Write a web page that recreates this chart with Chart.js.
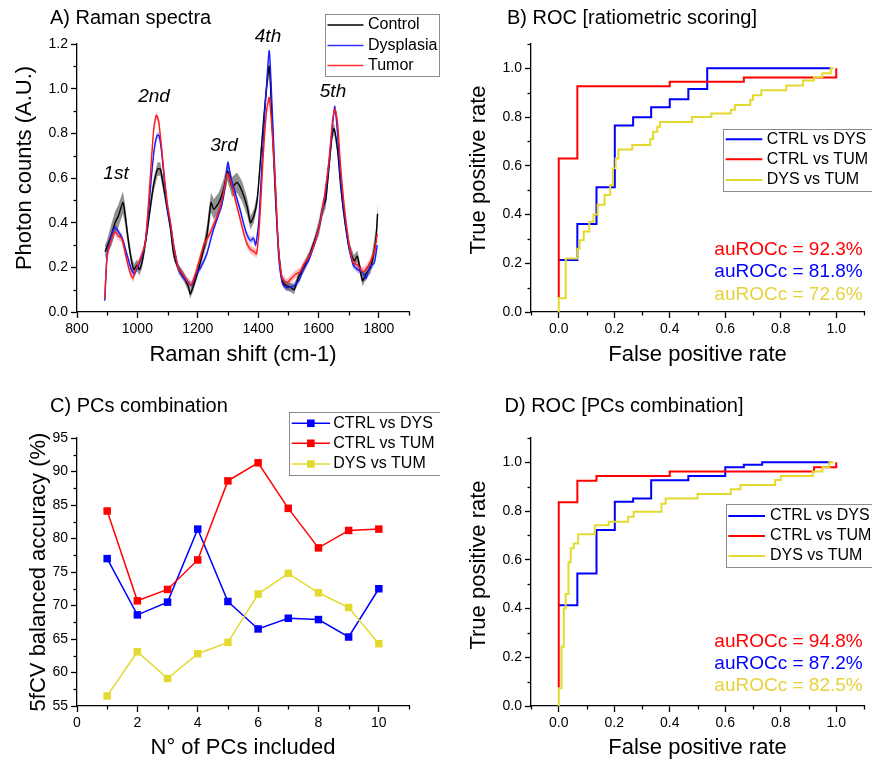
<!DOCTYPE html>
<html>
<head>
<meta charset="utf-8">
<script src="https://cdn.jsdelivr.net/npm/chart.js@4.4.0/dist/chart.umd.min.js"></script>
<style>
  body { margin: 0; background: #fff; width: 872px; height: 762px; position: relative; overflow: hidden; }
  canvas { position: absolute; }
</style>
</head>
<body>
<canvas id="chartA" width="440" height="380" style="left:0;top:0"></canvas>
<canvas id="chartB" width="432" height="380" style="left:440px;top:0"></canvas>
<canvas id="chartC" width="440" height="382" style="left:0;top:380px"></canvas>
<canvas id="chartD" width="432" height="382" style="left:440px;top:380px"></canvas>
<script>
// ---- A) Raman spectra (mean +- band) ----
const ramanXTicks = [800, 1000, 1200, 1400, 1600, 1800];
const ramanYTicks = [0, 0.2, 0.4, 0.6, 0.8, 1.0, 1.2];
const ramanPeaks = ['1st', '2nd', '3rd', '4th', '5th'];

const ctrlX = [893, 899, 915, 926, 937, 952, 959, 970, 982, 989, 998, 1007, 1015, 1023, 1031, 1043, 1054, 1067, 1076, 1087,
  1098, 1109, 1120, 1137, 1153, 1170, 1175, 1184, 1198, 1214, 1231, 1244, 1253, 1270, 1286, 1299, 1314, 1330, 1347, 1364,
  1375, 1386, 1397, 1413, 1424, 1437, 1447, 1458, 1469, 1480, 1491, 1508, 1519, 1535, 1552, 1569, 1585, 1602, 1613, 1624,
  1635, 1646, 1652, 1663, 1674, 1685, 1701, 1718, 1729, 1746, 1757, 1773, 1790, 1796];
const ctrlY = [0.27, 0.29, 0.35, 0.40, 0.43, 0.49, 0.44, 0.32, 0.22, 0.19, 0.21, 0.19, 0.22, 0.28, 0.35, 0.47, 0.57, 0.64, 0.64, 0.56,
  0.47, 0.38, 0.26, 0.19, 0.16, 0.11, 0.08, 0.11, 0.17, 0.25, 0.35, 0.49, 0.46, 0.49, 0.55, 0.63, 0.56, 0.58, 0.54, 0.47,
  0.40, 0.43, 0.50, 0.77, 0.95, 1.10, 0.83, 0.50, 0.26, 0.14, 0.12, 0.11, 0.10, 0.16, 0.20, 0.25, 0.31, 0.38, 0.46, 0.50,
  0.65, 0.80, 0.82, 0.73, 0.56, 0.43, 0.29, 0.23, 0.25, 0.14, 0.17, 0.20, 0.32, 0.44];
const ctrlErr = [0.03, 0.03, 0.05, 0.05, 0.05, 0.05, 0.045, 0.03, 0.025, 0.025, 0.025, 0.025, 0.025, 0.03, 0.03, 0.03, 0.03, 0.03, 0.03, 0.03,
  0.03, 0.02, 0.02, 0.02, 0.02, 0.02, 0.02, 0.02, 0.02, 0.02, 0.045, 0.045, 0.045, 0.045, 0.045, 0.045, 0.045, 0.045, 0.045, 0.04,
  0.03, 0.03, 0.03, 0.03, 0.03, 0.03, 0.03, 0.03, 0.02, 0.02, 0.02, 0.02, 0.02, 0.02, 0.02, 0.02, 0.02, 0.035, 0.035, 0.035,
  0.025, 0.025, 0.025, 0.025, 0.025, 0.025, 0.025, 0.025, 0.025, 0.025, 0.025, 0.025, 0.05, 0.05];

const dysX = [892, 900, 915, 926, 937, 950, 965, 980, 990, 1000, 1015, 1025, 1035, 1045, 1055, 1065, 1072, 1080, 1090, 1100,
  1110, 1120, 1135, 1150, 1170, 1180, 1195, 1210, 1230, 1250, 1265, 1280, 1290, 1300, 1310, 1325, 1340, 1355, 1365, 1375,
  1385, 1392, 1402, 1415, 1425, 1437, 1447, 1458, 1468, 1480, 1492, 1505, 1520, 1535, 1550, 1570, 1590, 1605, 1620, 1635,
  1647, 1654, 1662, 1672, 1685, 1700, 1715, 1730, 1745, 1757, 1770, 1785, 1795];
const dysY = [0.05, 0.26, 0.35, 0.38, 0.36, 0.33, 0.26, 0.19, 0.17, 0.20, 0.25, 0.30, 0.42, 0.58, 0.72, 0.79, 0.79, 0.72, 0.58, 0.46,
  0.39, 0.30, 0.20, 0.16, 0.13, 0.12, 0.17, 0.20, 0.26, 0.36, 0.42, 0.48, 0.56, 0.67, 0.60, 0.53, 0.46, 0.38, 0.34, 0.32,
  0.33, 0.30, 0.40, 0.72, 0.95, 1.17, 0.90, 0.55, 0.25, 0.13, 0.11, 0.11, 0.12, 0.14, 0.19, 0.24, 0.32, 0.40, 0.50, 0.67,
  0.84, 0.92, 0.82, 0.62, 0.45, 0.30, 0.21, 0.19, 0.18, 0.15, 0.20, 0.22, 0.30];
const dysErr = 0.015;

const tumX = [892, 900, 915, 926, 937, 948, 962, 975, 985, 995, 1010, 1025, 1035, 1045, 1055, 1063, 1070, 1080, 1090, 1100,
  1110, 1120, 1135, 1150, 1165, 1178, 1190, 1205, 1220, 1240, 1255, 1270, 1285, 1298, 1310, 1325, 1340, 1355, 1365, 1375,
  1387, 1395, 1405, 1417, 1428, 1437, 1447, 1458, 1468, 1480, 1495, 1510, 1525, 1540, 1550, 1570, 1590, 1605, 1620, 1635,
  1647, 1655, 1663, 1673, 1685, 1700, 1715, 1730, 1745, 1757, 1770, 1785, 1795];
const tumY = [0.06, 0.25, 0.33, 0.36, 0.34, 0.33, 0.25, 0.18, 0.15, 0.19, 0.24, 0.30, 0.45, 0.65, 0.83, 0.88, 0.86, 0.74, 0.60, 0.48,
  0.40, 0.30, 0.20, 0.17, 0.14, 0.12, 0.16, 0.23, 0.30, 0.35, 0.40, 0.45, 0.53, 0.62, 0.58, 0.50, 0.42, 0.34, 0.30, 0.28,
  0.27, 0.26, 0.40, 0.70, 0.90, 0.96, 0.80, 0.55, 0.28, 0.15, 0.13, 0.15, 0.17, 0.18, 0.21, 0.25, 0.32, 0.40, 0.52, 0.68,
  0.86, 0.91, 0.85, 0.66, 0.48, 0.32, 0.22, 0.21, 0.18, 0.19, 0.22, 0.27, 0.35];
const tumErr = 0.018;

// ---- ROC axes ----
const rocTicks = [0, 0.2, 0.4, 0.6, 0.8, 1.0];

// B) ROC ratiometric scoring (fpr = end of each horizontal run, tpr = level)
const ratioCtrlDysFpr = [0, 0.067, 0.136, 0.202, 0.268, 0.333, 0.40, 0.467, 0.535, 0.98];
const ratioCtrlDysTpr = [0.213, 0.213, 0.361, 0.512, 0.765, 0.799, 0.84, 0.873, 0.915, 1.0];
const ratioCtrlTumFpr = [0, 0.067, 0.40, 0.667, 1.0, 1.0];
const ratioCtrlTumTpr = [0.06, 0.63, 0.927, 0.945, 0.963, 1.0];
const ratioDysTumFpr = [0, 0.025, 0.067, 0.075, 0.09, 0.11, 0.125, 0.14, 0.165, 0.185, 0.195, 0.205, 0.215, 0.265, 0.33, 0.34,
  0.355, 0.365, 0.48, 0.55, 0.62, 0.635, 0.69, 0.70, 0.73, 0.82, 0.88, 0.92, 0.95, 0.98, 0.99];
const ratioDysTumTpr = [0, 0.056, 0.22, 0.26, 0.295, 0.33, 0.37, 0.40, 0.44, 0.48, 0.52, 0.59, 0.63, 0.667, 0.685, 0.71,
  0.74, 0.76, 0.78, 0.80, 0.815, 0.83, 0.85, 0.87, 0.89, 0.91, 0.93, 0.95, 0.965, 0.98, 1.0];
const ratioAuc = [92.3, 81.8, 72.6];

// D) ROC PCs combination
const pcaCtrlDysFpr = [0, 0.067, 0.136, 0.202, 0.268, 0.333, 0.467, 0.60, 0.667, 0.733, 0.98];
const pcaCtrlDysTpr = [0.414, 0.414, 0.544, 0.722, 0.838, 0.852, 0.927, 0.944, 0.98, 0.99, 1.0];
const pcaCtrlTumFpr = [0, 0.067, 0.136, 0.40, 0.92, 1.0, 1.0];
const pcaCtrlTumTpr = [0.073, 0.836, 0.925, 0.944, 0.963, 0.98, 1.0];
const pcaDysTumFpr = [0, 0.01, 0.018, 0.025, 0.035, 0.043, 0.054, 0.07, 0.13, 0.18, 0.25, 0.27, 0.37, 0.385, 0.50, 0.62,
  0.655, 0.78, 0.80, 0.915, 0.95, 0.975, 0.99];
const pcaDysTumTpr = [0, 0.073, 0.243, 0.40, 0.46, 0.59, 0.647, 0.667, 0.705, 0.742, 0.756, 0.777, 0.797, 0.83, 0.852, 0.87,
  0.89, 0.907, 0.928, 0.944, 0.962, 0.98, 1.0];
const pcaAuc = [94.8, 87.2, 82.5];

// C) PCs combination, 5fCV balanced accuracy (%)
const pcXTicks = [0, 2, 4, 6, 8, 10];
const pcYTicks = [55, 60, 65, 70, 75, 80, 85, 90, 95];
const pcCount = [1, 2, 3, 4, 5, 6, 7, 8, 9, 10];
const pcCtrlDys = [77.0, 68.6, 70.5, 81.4, 70.6, 66.5, 68.1, 67.9, 65.3, 72.5];
const pcCtrlTum = [84.1, 70.7, 72.4, 76.8, 88.6, 91.3, 84.5, 78.6, 81.2, 81.4];
const pcDysTum = [56.5, 63.1, 59.1, 62.8, 64.5, 71.7, 74.8, 71.9, 69.7, 64.3];

const comparisons = ['CTRL vs DYS', 'CTRL vs TUM', 'DYS vs TUM'];
const groups = ['Control', 'Dysplasia', 'Tumor'];

const BLUE = '#0000ff', RED = '#ff0000', YELLOW = '#e3da30', YTEXT = '#e6d23c';
const FONT = '"Liberation Sans", Arial, Helvetica, sans-serif';

Chart.defaults.font.family = FONT;
Chart.defaults.color = '#000';
Chart.defaults.animation = false;
Chart.defaults.responsive = false;
Chart.defaults.plugins.legend.display = false;
Chart.defaults.plugins.tooltip.enabled = false;

const pts = (xs, ys) => xs.map((x, i) => ({x: x, y: ys[i]}));

// x axis keeps the library title; y axis title is drawn in decor so it can sit a bit higher like the original
function axis(c) {
  const horiz = c.pos === 'bottom';
  return {
    type: 'linear', position: c.pos, min: c.min, max: c.max,
    title: {
      display: horiz, text: c.title, color: '#000', font: {size: 22},
      padding: {top: 0, bottom: c.titlePad || 0}
    },
    ticks: {color: '#000', font: {size: 14}, padding: 3, autoSkip: false, maxRotation: 0, callback: v => c.fmt(v)},
    grid: {drawOnChartArea: false, drawTicks: true, tickLength: 6, tickColor: '#000', tickWidth: 1.3},
    border: {display: true, color: '#000', width: 1.3},
    afterBuildTicks: s => { s.ticks = c.ticks.map(v => ({value: v})); },
    afterFit: s => { if (horiz) s.height = c.size; else s.width = c.size; }
  };
}

// minor ticks, y title, panel title, notes and framed legend
function decor(cfg) {
  return {
    id: 'decor',
    afterDraw(chart) {
      const ctx = chart.ctx;
      ctx.save();
      ctx.strokeStyle = '#000';
      ctx.lineWidth = 1.3;
      ['x', 'y'].forEach(id => {
        const s = chart.scales[id], step = cfg.minor[id];
        for (let i = 0; ; i++) {
          const v = Math.round((s.min + i * step) * 1e6) / 1e6;
          if (v > s.max + 1e-9) break;
          if (s.ticks.some(t => Math.abs(t.value - v) < 1e-6)) continue;
          const p = Math.round(s.getPixelForValue(v)) + 0.5;
          ctx.beginPath();
          if (id === 'x') { ctx.moveTo(p, s.top); ctx.lineTo(p, s.top + 3.5); }
          else { ctx.moveTo(s.right, p); ctx.lineTo(s.right - 3.5, p); }
          ctx.stroke();
        }
      });

      ctx.fillStyle = '#000';
      ctx.font = '22px ' + FONT;
      ctx.textAlign = 'center';
      ctx.textBaseline = 'middle';
      ctx.save();
      ctx.translate(cfg.yTitle[1], cfg.yTitle[2]);
      ctx.rotate(-Math.PI / 2);
      ctx.fillText(cfg.yTitle[0], 0, 0);
      ctx.restore();

      ctx.font = '20px ' + FONT;
      ctx.textAlign = 'left';
      ctx.textBaseline = 'alphabetic';
      ctx.fillText(cfg.title, cfg.titleX, cfg.titleY);

      (cfg.notes || []).forEach(n => {
        ctx.fillStyle = n.color || '#000';
        ctx.font = n.font;
        ctx.textAlign = n.align;
        ctx.textBaseline = n.baseline;
        ctx.fillText(n.text, n.x, n.y);
      });

      const lg = cfg.legend;
      ctx.fillStyle = '#fff';
      ctx.fillRect(lg.box[0], lg.box[1], lg.box[2], lg.box[3]);
      ctx.strokeStyle = '#8c8c8c';
      ctx.lineWidth = 1;
      ctx.strokeRect(lg.box[0], lg.box[1], lg.box[2], lg.box[3]);
      ctx.font = '16px ' + FONT;
      ctx.textAlign = 'left';
      ctx.textBaseline = 'middle';
      lg.rows.forEach(r => {
        ctx.strokeStyle = r.color;
        ctx.lineWidth = lg.lineWidth;
        ctx.beginPath();
        ctx.moveTo(lg.line[0], r.y);
        ctx.lineTo(lg.line[1], r.y);
        ctx.stroke();
        if (lg.marker) {
          ctx.fillStyle = r.color;
          const m = (lg.line[0] + lg.line[1]) / 2;
          ctx.fillRect(m - 3.8, r.y - 3.8, 7.6, 7.6);
        }
        ctx.fillStyle = '#000';
        ctx.fillText(r.label, lg.textX, r.y);
      });
      ctx.restore();
    }
  };
}

// ---------------- A ----------------
function band(xs, ys, err, color) {
  const e = i => Array.isArray(err) ? err[i] : err;
  return [
    {data: xs.map((x, i) => ({x: x, y: ys[i] + e(i)})), borderWidth: 0, pointRadius: 0, fill: false},
    {data: xs.map((x, i) => ({x: x, y: ys[i] - e(i)})), borderWidth: 0, pointRadius: 0, fill: '-1', backgroundColor: color}
  ];
}
const specLine = (xs, ys, color) => ({
  data: pts(xs, ys), borderColor: color, borderWidth: 1.4, pointRadius: 0, tension: 0.2, fill: false
});

new Chart(document.getElementById('chartA'), {
  type: 'line',
  data: {
    datasets: [
      specLine(tumX, tumY, '#ff1a1a'),
      specLine(dysX, dysY, '#1a1aff'),
      specLine(ctrlX, ctrlY, '#000'),
      ...band(ctrlX, ctrlY, ctrlErr, 'rgba(70,70,70,0.6)'),
      ...band(dysX, dysY, dysErr, 'rgba(60,60,255,0.35)'),
      ...band(tumX, tumY, tumErr, 'rgba(255,60,60,0.35)')
    ]
  },
  options: {
    layout: {padding: {top: 44, right: 31, left: 0, bottom: 0}},
    scales: {
      x: axis({pos: 'bottom', min: 800, max: 1900, ticks: ramanXTicks, title: 'Raman shift (cm-1)', titlePad: 12, size: 68, fmt: v => String(v)}),
      y: axis({pos: 'left', min: 0, max: 1.2, ticks: ramanYTicks, size: 77, fmt: v => v.toFixed(1)})
    }
  },
  plugins: [decor({
    minor: {x: 100, y: 0.1},
    yTitle: ['Photon counts (A.U.)', 25, 168],
    title: 'A) Raman spectra', titleX: 50, titleY: 24,
    notes: [[116, 174], [154, 97], [224, 146], [268, 37], [333, 92]].map((p, i) => ({
      text: ramanPeaks[i], x: p[0], y: p[1], font: 'italic 19px ' + FONT, align: 'center', baseline: 'middle'
    })),
    legend: {
      box: [325.5, 14.5, 114, 62], line: [327.5, 363.5], textX: 368, lineWidth: 1.5,
      rows: [{label: groups[0], color: '#000', y: 25}, {label: groups[1], color: '#3030ff', y: 45.5}, {label: groups[2], color: '#ff3030', y: 65.5}]
    }
  })]
});

// ---------------- ROC helper ----------------
const rocLine = (fpr, tpr, color) => ({
  data: pts(fpr, tpr), borderColor: color, borderWidth: 2, pointRadius: 0, stepped: 'after', fill: false
});

function rocChart(id, sets, auc, title, titleX, titleY, top, size, aucY, legendBox, legendRows, lineX, textX, xPad, yTitleY) {
  new Chart(document.getElementById(id), {
    type: 'line',
    data: {datasets: [rocLine(sets[2][0], sets[2][1], YELLOW), rocLine(sets[1][0], sets[1][1], RED), rocLine(sets[0][0], sets[0][1], BLUE)]},
    options: {
      layout: {padding: {top: top, right: 8, left: 0, bottom: 0}},
      scales: {
        x: axis({pos: 'bottom', min: -0.1, max: 1.1, ticks: rocTicks, title: 'False positive rate', titlePad: xPad, size: size, fmt: v => v.toFixed(1)}),
        y: axis({pos: 'left', min: 0, max: 1.1, ticks: rocTicks, size: 91, fmt: v => v.toFixed(1)})
      }
    },
    plugins: [decor({
      minor: {x: 0.1, y: 0.1},
      yTitle: ['True positive rate', 38.5, yTitleY],
      title: title, titleX: titleX, titleY: titleY,
      notes: [[auc[0], RED], [auc[1], BLUE], [auc[2], YTEXT]].map((a, i) => ({
        text: 'auROCc = ' + a[0].toFixed(1) + '%', x: 422.7, y: aucY[i], color: a[1],
        font: '19px ' + FONT, align: 'right', baseline: 'alphabetic'
      })),
      legend: {
        box: legendBox, line: lineX, textX: textX, lineWidth: 2,
        rows: [{label: comparisons[0], color: BLUE, y: legendRows[0]}, {label: comparisons[1], color: RED, y: legendRows[1]}, {label: comparisons[2], color: YELLOW, y: legendRows[2]}]
      }
    })]
  });
}

rocChart('chartB',
  [[ratioCtrlDysFpr, ratioCtrlDysTpr], [ratioCtrlTumFpr, ratioCtrlTumTpr], [ratioDysTumFpr, ratioDysTumTpr]],
  ratioAuc, 'B) ROC [ratiometric scoring]', 67, 24, 44, 68, [255, 277.3, 300],
  [283.5, 129.5, 160, 62], [139.3, 159.3, 180], [285.7, 322.3], 326.7, 12, 170);

rocChart('chartD',
  [[pcaCtrlDysFpr, pcaCtrlDysTpr], [pcaCtrlTumFpr, pcaCtrlTumTpr], [pcaDysTumFpr, pcaDysTumTpr]],
  pcaAuc, 'D) ROC [PCs combination]', 64.5, 31.7, 58, 56, [266.7, 289.3, 311],
  [286.5, 124.5, 160, 63], [136, 156, 176], [288.3, 325], 330, 1, 185);

// ---------------- C ----------------
const pcLine = (ys, color) => ({
  data: pts(pcCount, ys), borderColor: color, backgroundColor: color, borderWidth: 1.5,
  pointStyle: 'rect', pointRadius: 5.3, pointBorderWidth: 0, fill: false, tension: 0
});

new Chart(document.getElementById('chartC'), {
  type: 'line',
  data: {datasets: [pcLine(pcDysTum, YELLOW), pcLine(pcCtrlTum, RED), pcLine(pcCtrlDys, BLUE)]},
  options: {
    layout: {padding: {top: 58, right: 31, left: 0, bottom: 0}},
    scales: {
      x: axis({pos: 'bottom', min: 0, max: 11, ticks: pcXTicks, title: 'N° of PCs included', titlePad: 1, size: 56, fmt: v => String(v)}),
      y: axis({pos: 'left', min: 55, max: 95, ticks: pcYTicks, size: 77, fmt: v => String(v)})
    }
  },
  plugins: [decor({
    minor: {x: 1, y: 2.5},
    yTitle: ['5fCV balanced accuracy (%)', 39, 192],
    title: 'C) PCs combination', titleX: 50, titleY: 32.3,
    legend: {
      box: [289.5, 32.5, 152, 63], line: [291.7, 330], textX: 333.3, lineWidth: 1.5, marker: true,
      rows: [{label: comparisons[0], color: BLUE, y: 43.3}, {label: comparisons[1], color: RED, y: 63.3}, {label: comparisons[2], color: YELLOW, y: 84}]
    }
  })]
});
</script>
</body>
</html>
